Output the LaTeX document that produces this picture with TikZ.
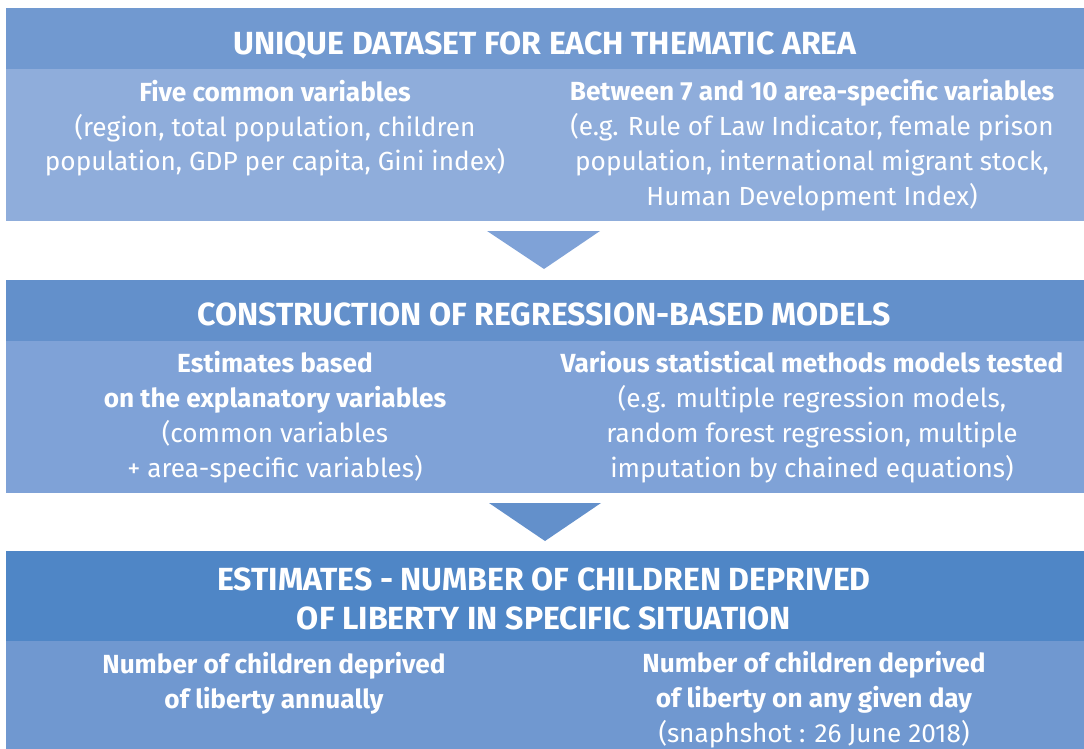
\documentclass[tikz,border=0pt]{standalone}
\usepackage{fontspec}
\setmainfont{Fira Sans}
\definecolor{hdA}{HTML}{7199D0}
\definecolor{bdA}{HTML}{8FADDB}
\definecolor{hdB}{HTML}{6390CB}
\definecolor{bdB}{HTML}{7FA2D7}
\definecolor{hdC}{HTML}{4F86C6}
\definecolor{bdC}{HTML}{7098D0}
\begin{document}
\begin{tikzpicture}[x=1pt,y=-1pt,
  band/.style={draw=none,inner sep=0pt,outer sep=0pt,anchor=north west,minimum width=1078pt},
  hdtext/.style={text=white,font=\fontsize{32}{39}\selectfont\bfseries,align=center,anchor=base,inner sep=0pt},
  bdtext/.style={text=white,font=\fontsize{26.2}{34.8}\selectfont,align=center,anchor=base,inner sep=0pt}]
\useasboundingbox (0,0) rectangle (1084,749);
% box 1
\node[band,fill=hdA,minimum height=61pt] (h1) at (6,8) {};
\node[band,fill=bdA,minimum height=152pt] (b1) at (6,69) {};
\node[hdtext] (t1) at (545,55) {UNIQUE DATASET FOR EACH THEMATIC AREA};
\node[bdtext] (l1) at (275,171) {\textbf{Five common variables}\\(region, total population, children\\population, GDP per capita, Gini index)};
\node[bdtext] (r1) at (812,205) {\textbf{Between 7 and 10 area-specific variables}\\(e.g. Rule of Law Indicator, female prison\\population, international migrant stock,\\Human Development Index)};
% arrow 1
\fill[bdB] (487,231) -- (600,231) -- (544,269) -- cycle;
% box 2
\node[band,fill=hdB,minimum height=61pt] (h2) at (6,280) {};
\node[band,fill=bdB,minimum height=152pt] (b2) at (6,341) {};
\node[hdtext] (t2) at (544,325) {CONSTRUCTION OF REGRESSION-BASED MODELS};
\node[bdtext] (l2) at (275,477) {\textbf{Estimates based}\\\textbf{on the explanatory variables}\\(common variables\\+ area-specific variables)};
\node[bdtext] (r2) at (812,477) {\textbf{Various statistical methods models tested}\\(e.g. multiple regression models,\\random forest regression, multiple\\imputation by chained equations)};
% arrow 2
\fill[hdB] (489,503) -- (601,503) -- (545,541) -- cycle;
% box 3
\node[band,fill=hdC,minimum height=90pt] (h3) at (6,551) {};
\node[band,fill=bdC,minimum height=108pt] (b3) at (6,641) {};
\node[hdtext] (t3) at (544,629) {ESTIMATES - NUMBER OF CHILDREN DEPRIVED\\OF LIBERTY IN SPECIFIC SITUATION};
\node[bdtext] (l3) at (274,708) {\textbf{Number of children deprived}\\\textbf{of liberty annually}};
\node[bdtext] (r3) at (814,742) {\textbf{Number of children deprived}\\\textbf{of liberty on any given day}\\(snaphshot : 26 June 2018)};
\end{tikzpicture}
\end{document}
